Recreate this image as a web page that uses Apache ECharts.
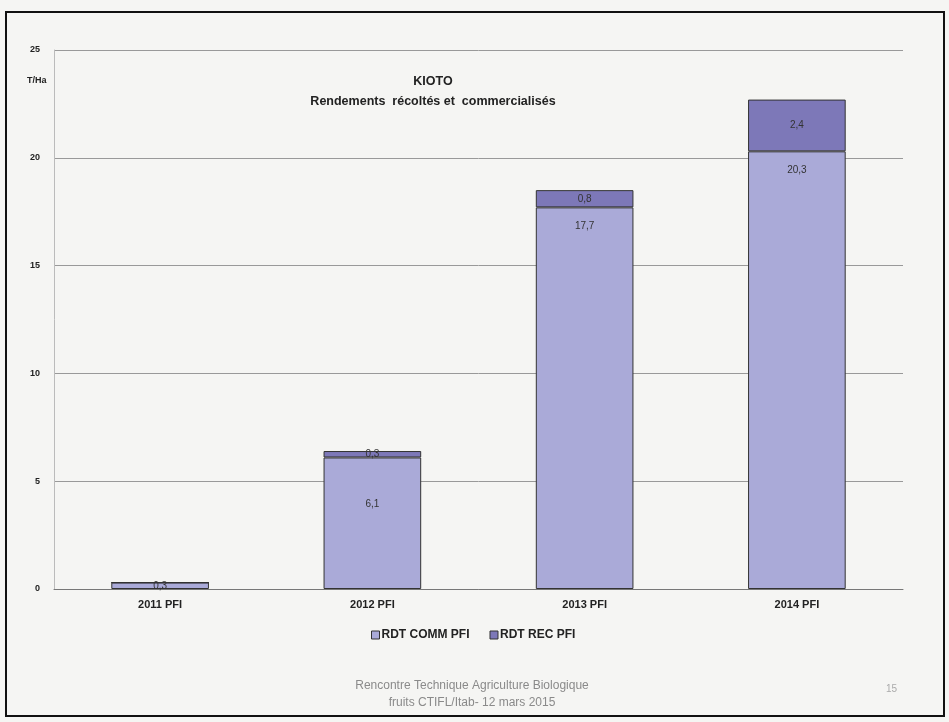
<!DOCTYPE html>
<html><head><meta charset="utf-8">
<script src="https://cdn.jsdelivr.net/npm/echarts@6/dist/echarts.min.js"></script>
<style>html,body{margin:0;padding:0;background:#f5f5f3}#c{width:949px;height:722px}</style>
</head><body><div id="c"></div>
<script>
const categories = ['2011 PFI', '2012 PFI', '2013 PFI', '2014 PFI'];
const rdtComm = [0.3, 6.1, 17.7, 20.3];
const rdtRec = [0, 0.3, 0.8, 2.4];
const yTicks = [0, 5, 10, 15, 20, 25];
const seriesNames = ['RDT COMM PFI', 'RDT REC PFI'];

const fmt = v => String(v).replace('.', ',');
const chart = echarts.init(document.getElementById('c'));
const font = 'Liberation Sans, Arial, sans-serif';

const commData = rdtComm.map((v, i) => i === 1
  ? { value: v, label: { position: 'insideTop', distance: 42 } }
  : (i === 0 ? { value: v, label: { position: 'inside' } } : v));
const recData = rdtRec.map(v => v === 0 ? { value: v, label: { show: false } } : v);

chart.setOption({
  backgroundColor: '#f5f5f3',
  animation: false,
  title: {
    text: 'KIOTO\nRendements  récoltés et  commercialisés',
    left: 428, top: 67, textAlign: 'center',
    textStyle: { fontFamily: font, fontSize: 12.5, fontWeight: 'bold', color: '#222', lineHeight: 20 }
  },
  legend: {
    data: seriesNames, left: 366, top: 624,
    icon: 'rect', itemWidth: 8, itemHeight: 8, itemGap: 20,
    textStyle: { fontFamily: font, fontSize: 12, fontWeight: 'bold', color: '#222', padding: [0, 0, 0, -3] },
    itemStyle: { borderColor: '#333', borderWidth: 1 }
  },
  grid: { left: 54, right: 46, top: 50, bottom: 133 },
  xAxis: {
    type: 'category', data: categories,
    axisLine: { lineStyle: { color: '#777', width: 1 } },
    axisTick: { show: false },
    axisLabel: { fontFamily: font, fontSize: 11, fontWeight: 'bold', color: '#222', margin: 10 }
  },
  yAxis: {
    type: 'value', min: 0, max: 25, interval: 5,
    axisLine: { show: true, lineStyle: { color: '#bbb' } },
    axisTick: { show: false },
    splitLine: { lineStyle: { color: '#999', width: 1 } },
    axisLabel: { fontFamily: font, fontSize: 9, fontWeight: 'bold', color: '#222', margin: 14,
      formatter: v => yTicks.includes(v) ? String(v) : '' }
  },
  series: [
    {
      name: seriesNames[0], type: 'bar', stack: 'rdt', barWidth: '46%',
      data: commData,
      itemStyle: { color: '#aaaad8', borderColor: '#333', borderWidth: 1 },
      label: { show: true, position: 'insideTop', distance: 14, formatter: p => fmt(p.value),
        fontFamily: font, fontSize: 10, color: '#333' }
    },
    {
      name: seriesNames[1], type: 'bar', stack: 'rdt',
      data: recData,
      itemStyle: { color: '#7d78b8', borderColor: '#333', borderWidth: 1 },
      label: { show: true, position: 'inside', formatter: p => fmt(p.value),
        fontFamily: font, fontSize: 10, color: '#333' }
    }
  ],
  graphic: [
    { type: 'rect', shape: { x: 6, y: 12, width: 938, height: 704 }, style: { fill: 'none', stroke: '#111', lineWidth: 2 }, silent: true },
    { type: 'text', left: 27, top: 76, style: { text: 'T/Ha', font: 'bold 9px Liberation Sans, Arial', fill: '#222' } },
    { type: 'text', x: 472, y: 680, style: { text: 'Rencontre Technique Agriculture Biologique', font: '12px Liberation Sans, Arial', fill: '#8a8a8a', textAlign: 'center' } },
    { type: 'text', x: 472, y: 697, style: { text: 'fruits CTIFL/Itab- 12 mars 2015', font: '12px Liberation Sans, Arial', fill: '#8a8a8a', textAlign: 'center' } },
    { type: 'text', left: 886, top: 684, style: { text: '15', font: '10px Liberation Sans, Arial', fill: '#aaa' } }
  ]
});
</script></body></html>
